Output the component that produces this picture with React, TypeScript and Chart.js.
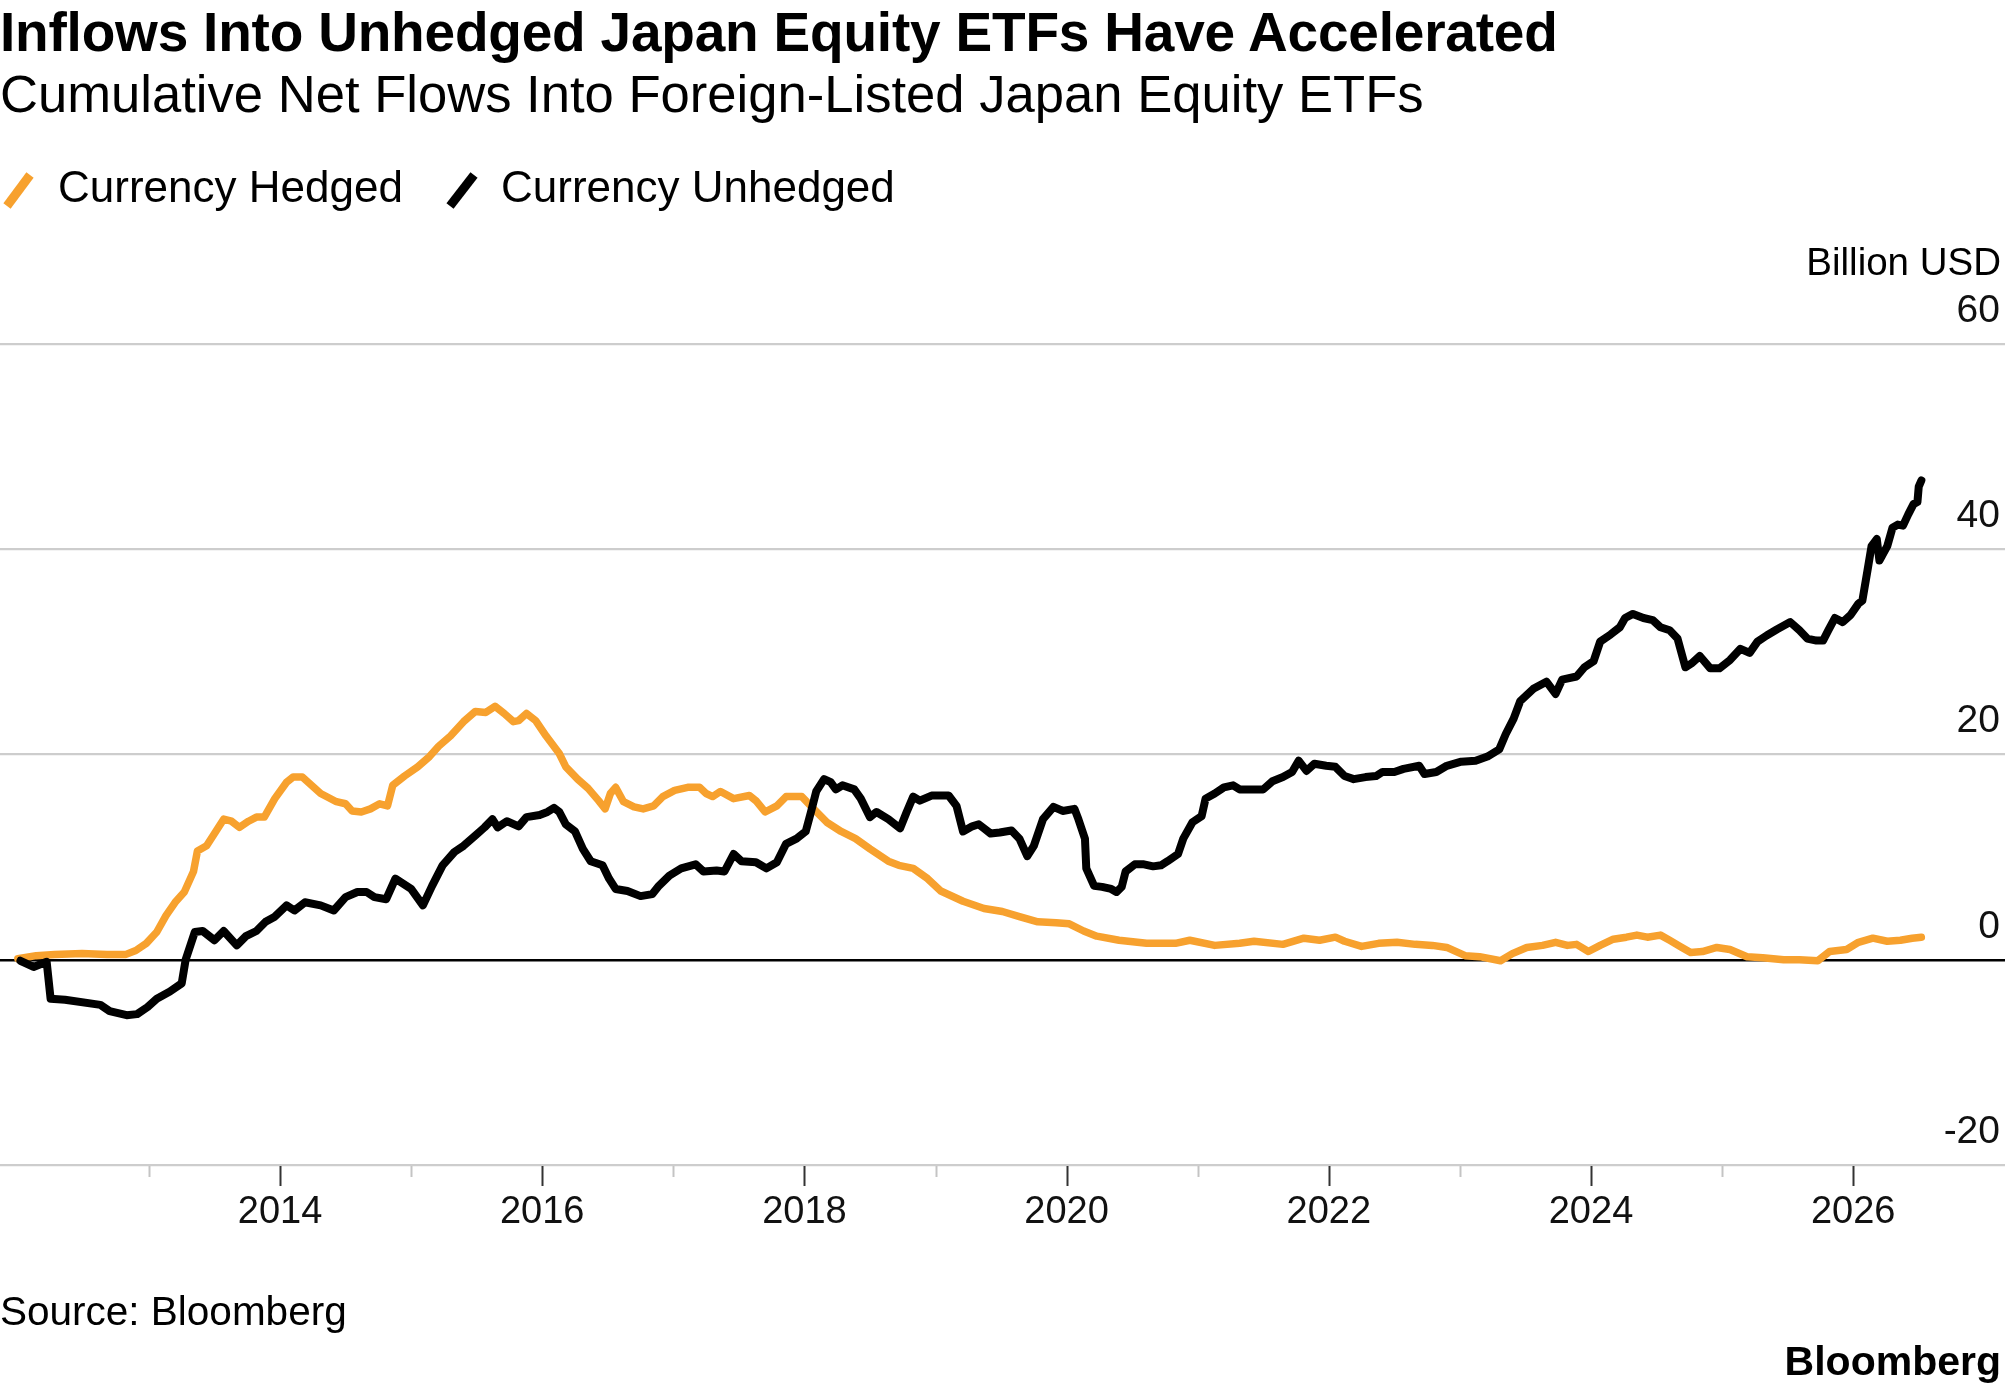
import React, { useEffect, useRef } from 'react';
import { Chart, registerables } from 'chart.js';

Chart.register(...registerables);

// ---------- data (decimal years, billion USD) ----------
const hedgedYears = [
  2012.0, 2012.14, 2012.28, 2012.49, 2012.68, 2012.82, 2012.9, 2012.98, 2013.06, 2013.13,
  2013.2, 2013.27, 2013.34, 2013.37, 2013.44, 2013.51, 2013.57, 2013.63, 2013.69, 2013.76,
  2013.82, 2013.88, 2013.96, 2014.05, 2014.1, 2014.17, 2014.24, 2014.31, 2014.43, 2014.5,
  2014.55, 2014.62, 2014.69, 2014.76, 2014.82, 2014.86, 2014.95, 2015.05, 2015.14, 2015.21,
  2015.3, 2015.4, 2015.49, 2015.57, 2015.64, 2015.71, 2015.78, 2015.82, 2015.88, 2015.95,
  2016.03, 2016.13, 2016.18, 2016.27, 2016.35, 2016.43, 2016.48, 2016.52, 2016.56, 2016.62,
  2016.7, 2016.77, 2016.85, 2016.92, 2017.01, 2017.11, 2017.2, 2017.25, 2017.3, 2017.36,
  2017.46, 2017.58, 2017.63, 2017.7, 2017.79, 2017.86, 2017.98, 2018.07, 2018.17, 2018.28,
  2018.39, 2018.5, 2018.64, 2018.72, 2018.83, 2018.94, 2019.04, 2019.21, 2019.37, 2019.51,
  2019.64, 2019.78, 2019.92, 2020.02, 2020.13, 2020.23, 2020.4, 2020.61, 2020.83, 2020.94,
  2021.13, 2021.32, 2021.43, 2021.65, 2021.81, 2021.93, 2022.05, 2022.12, 2022.25, 2022.38,
  2022.52, 2022.66, 2022.79, 2022.9, 2023.04, 2023.15, 2023.31, 2023.4, 2023.51, 2023.63,
  2023.73, 2023.82, 2023.89, 2023.98, 2024.07, 2024.17, 2024.27, 2024.35, 2024.43, 2024.53,
  2024.6, 2024.68, 2024.76, 2024.85, 2024.96, 2025.06, 2025.19, 2025.31, 2025.47, 2025.59,
  2025.73, 2025.82, 2025.95, 2026.04, 2026.15, 2026.26, 2026.36, 2026.45, 2026.52,
];
const hedgedValues = [
  0.1, 0.4, 0.5, 0.6, 0.5, 0.5, 0.9, 1.6, 2.7, 4.3,
  5.6, 6.6, 8.6, 10.6, 11.1, 12.5, 13.7, 13.5, 12.9, 13.5,
  13.9, 13.9, 15.7, 17.3, 17.8, 17.8, 17.0, 16.2, 15.4, 15.2,
  14.5, 14.4, 14.7, 15.2, 15.0, 17.0, 17.9, 18.8, 19.8, 20.8,
  21.8, 23.2, 24.2, 24.1, 24.7, 24.0, 23.2, 23.3, 24.0, 23.3,
  21.8, 20.1, 18.8, 17.6, 16.7, 15.5, 14.7, 16.2, 16.8, 15.4,
  14.9, 14.7, 15.0, 15.9, 16.5, 16.8, 16.8, 16.2, 15.9, 16.4,
  15.7, 16.0, 15.5, 14.4, 15.0, 15.9, 15.9, 14.7, 13.4, 12.5,
  11.8, 10.8, 9.6, 9.2, 8.9, 7.9, 6.7, 5.7, 5.0, 4.7,
  4.2, 3.7, 3.6, 3.5, 2.8, 2.3, 1.9, 1.6, 1.6, 1.9,
  1.4, 1.6, 1.8, 1.5, 2.1, 1.9, 2.2, 1.8, 1.3, 1.6,
  1.7, 1.5, 1.4, 1.2, 0.4, 0.3, -0.1, 0.6, 1.2, 1.4,
  1.7, 1.4, 1.5, 0.8, 1.4, 2.0, 2.2, 2.4, 2.2, 2.4,
  1.9, 1.3, 0.7, 0.8, 1.2, 1.0, 0.3, 0.2, 0.0, 0.0,
  -0.1, 0.8, 1.0, 1.7, 2.1, 1.8, 1.9, 2.1, 2.2,
];

const unhedgedYears = [
  2012.02, 2012.12, 2012.22, 2012.25, 2012.36, 2012.63, 2012.7, 2012.83, 2012.91, 2012.99,
  2013.06, 2013.16, 2013.25, 2013.28, 2013.35, 2013.41, 2013.5, 2013.57, 2013.67, 2013.74,
  2013.82, 2013.89, 2013.96, 2014.05, 2014.11, 2014.19, 2014.31, 2014.41, 2014.5, 2014.59,
  2014.66, 2014.72, 2014.81, 2014.88, 2015.0, 2015.09, 2015.16, 2015.24, 2015.33, 2015.4,
  2015.49, 2015.56, 2015.62, 2015.66, 2015.73, 2015.82, 2015.88, 2015.98, 2016.04, 2016.09,
  2016.13, 2016.18, 2016.25, 2016.31, 2016.37, 2016.46, 2016.51, 2016.56, 2016.65, 2016.75,
  2016.84, 2016.89, 2016.97, 2017.06, 2017.17, 2017.23, 2017.33, 2017.39, 2017.46, 2017.52,
  2017.63, 2017.71, 2017.79, 2017.86, 2017.94, 2018.01, 2018.05, 2018.09, 2018.15, 2018.2,
  2018.24, 2018.29, 2018.38, 2018.43, 2018.5, 2018.55, 2018.64, 2018.73, 2018.78, 2018.83,
  2018.88, 2018.97, 2019.1, 2019.16, 2019.21, 2019.28, 2019.33, 2019.37, 2019.42, 2019.49,
  2019.58, 2019.64, 2019.7, 2019.75, 2019.82, 2019.9, 2019.97, 2020.06, 2020.09, 2020.14,
  2020.15, 2020.21, 2020.27, 2020.34, 2020.38, 2020.42, 2020.45, 2020.52, 2020.59, 2020.66,
  2020.72, 2020.77, 2020.85, 2020.89, 2020.96, 2021.03, 2021.06, 2021.13, 2021.2, 2021.27,
  2021.32, 2021.41, 2021.5, 2021.57, 2021.65, 2021.72, 2021.77, 2021.83, 2021.89, 2021.98,
  2022.05, 2022.12, 2022.19, 2022.28, 2022.36, 2022.41, 2022.5, 2022.57, 2022.69, 2022.73,
  2022.82, 2022.9, 2023.01, 2023.12, 2023.21, 2023.3, 2023.35, 2023.41, 2023.46, 2023.56,
  2023.66, 2023.73, 2023.78, 2023.89, 2023.95, 2024.02, 2024.07, 2024.15, 2024.22, 2024.26,
  2024.32, 2024.4, 2024.47, 2024.53, 2024.6, 2024.66, 2024.72, 2024.77, 2024.83, 2024.91,
  2024.98, 2025.06, 2025.14, 2025.21, 2025.27, 2025.34, 2025.42, 2025.52, 2025.59, 2025.65,
  2025.72, 2025.77, 2025.81, 2025.86, 2025.92, 2025.98, 2026.04, 2026.07, 2026.11, 2026.14,
  2026.18, 2026.2, 2026.26, 2026.3, 2026.34, 2026.38, 2026.42, 2026.46, 2026.49, 2026.5,
  2026.52,
];
const unhedgedValues = [
  -0.1, -0.7, -0.2, -3.8, -3.9, -4.4, -5.0, -5.4, -5.3, -4.6,
  -3.8, -3.1, -2.3, 0.0, 2.7, 2.8, 1.9, 2.8, 1.4, 2.3,
  2.8, 3.7, 4.2, 5.3, 4.8, 5.6, 5.3, 4.8, 6.1, 6.6,
  6.6, 6.1, 5.9, 7.9, 6.9, 5.3, 7.2, 9.2, 10.5, 11.1,
  12.1, 12.9, 13.7, 12.9, 13.5, 13.0, 13.9, 14.1, 14.4, 14.8,
  14.4, 13.2, 12.5, 10.8, 9.6, 9.2, 7.9, 6.9, 6.7, 6.2,
  6.4, 7.2, 8.2, 8.9, 9.3, 8.6, 8.7, 8.6, 10.3, 9.6,
  9.5, 8.9, 9.5, 11.3, 11.8, 12.5, 14.4, 16.4, 17.6, 17.3,
  16.6, 17.0, 16.6, 15.7, 13.9, 14.4, 13.7, 12.8, 14.4, 15.9,
  15.5, 16.0, 16.0, 15.0, 12.5, 13.0, 13.2, 12.8, 12.3, 12.4,
  12.6, 11.8, 10.1, 11.1, 13.7, 14.9, 14.5, 14.7, 13.7, 11.8,
  8.9, 7.2, 7.1, 6.9, 6.6, 7.1, 8.6, 9.3, 9.3, 9.1,
  9.2, 9.6, 10.3, 11.8, 13.4, 14.0, 15.7, 16.2, 16.8, 17.0,
  16.6, 16.6, 16.6, 17.4, 17.8, 18.3, 19.4, 18.4, 19.1, 18.9,
  18.8, 17.9, 17.6, 17.8, 17.9, 18.3, 18.3, 18.6, 18.9, 18.1,
  18.3, 18.9, 19.3, 19.4, 19.8, 20.5, 22.0, 23.5, 25.2, 26.4,
  27.1, 25.9, 27.3, 27.6, 28.5, 29.1, 31.0, 31.7, 32.4, 33.3,
  33.7, 33.3, 33.1, 32.4, 32.1, 31.3, 28.5, 28.9, 29.6, 28.4,
  28.4, 29.2, 30.3, 29.9, 31.0, 31.6, 32.2, 32.9, 32.1, 31.3,
  31.1, 31.1, 32.1, 33.3, 32.9, 33.6, 34.7, 35.0, 38.0, 40.3,
  41.0, 38.9, 40.3, 42.1, 42.4, 42.3, 43.4, 44.4, 44.6, 46.1,
  46.7,
];

const tickYears = [2013, 2014, 2015, 2016, 2017, 2018, 2019, 2020, 2021, 2022, 2023, 2024, 2025, 2026];
const labelYears = [2014, 2016, 2018, 2020, 2022, 2024, 2026];
const yTickValues = [-20, 0, 20, 40, 60];

const X_MIN = 2011.864;
const X_MAX = 2027.158;

const TITLE = 'Inflows Into Unhedged Japan Equity ETFs Have Accelerated';
const SUBTITLE = 'Cumulative Net Flows Into Foreign-Listed Japan Equity ETFs';
const HEDGED_LABEL = 'Currency Hedged';
const UNHEDGED_LABEL = 'Currency Unhedged';
const UNIT_LABEL = 'Billion USD';
const SOURCE = 'Source: Bloomberg';
const BRAND = 'Bloomberg';

const ORANGE = '#F7A12E';
const BLACK = '#000000';
const FONT = "'Liberation Sans', Arial, Helvetica, sans-serif";

const W = 2005;
const H = 1392;
const PLOT_TOP = 344;
const PLOT_BOTTOM = 1165;
const X_AXIS_H = 80;

const tickMarks = {
  id: 'tickMarks',
  afterDraw(chart: any) {
    const { ctx, chartArea, scales } = chart;
    const x = scales.x;
    ctx.save();
    ctx.lineWidth = 2;
    for (const yr of tickYears) {
      const px = Math.round(x.getPixelForValue(yr)) + 0.5;
      const major = labelYears.includes(yr);
      ctx.strokeStyle = major ? '#333333' : '#c4c4c4';
      ctx.beginPath();
      ctx.moveTo(px, chartArea.bottom + 1);
      ctx.lineTo(px, chartArea.bottom + (major ? 21 : 12));
      ctx.stroke();
    }
    ctx.restore();
  },
};

function App() {
  const ref = useRef<HTMLCanvasElement | null>(null);

  useEffect(() => {
    document.body.style.margin = '0';
    document.body.style.background = '#ffffff';
    const canvas = ref.current;
    if (!canvas) return;
    const chart = new Chart(canvas, {
      type: 'line',
      data: {
        datasets: [
          {
            label: UNHEDGED_LABEL,
            data: unhedgedYears.map((x, i) => ({ x, y: unhedgedValues[i] })),
            borderColor: BLACK,
            borderWidth: 8,
            pointRadius: 0,
            tension: 0,
            order: 0,
          },
          {
            label: HEDGED_LABEL,
            data: hedgedYears.map((x, i) => ({ x, y: hedgedValues[i] })),
            borderColor: ORANGE,
            borderWidth: 7.5,
            pointRadius: 0,
            tension: 0,
            order: 1,
          },
        ],
      },
      options: {
        animation: false,
        responsive: false,
        maintainAspectRatio: false,
        devicePixelRatio: 1,
        layout: {
          padding: { left: 0, right: 0, top: PLOT_TOP, bottom: H - PLOT_BOTTOM - X_AXIS_H },
        },
        elements: {
          line: { borderJoinStyle: 'round', borderCapStyle: 'round' },
        },
        plugins: {
          legend: { display: false },
          tooltip: { enabled: false },
          title: { display: false },
        },
        scales: {
          x: {
            type: 'linear',
            min: X_MIN,
            max: X_MAX,
            afterBuildTicks: (scale: any) => {
              scale.ticks = labelYears.map((v) => ({ value: v }));
            },
            afterFit: (scale: any) => {
              scale.height = X_AXIS_H;
            },
            ticks: {
              autoSkip: false,
              maxRotation: 0,
              padding: 25,
              color: '#111111',
              font: { family: FONT, size: 38 },
              callback: (v: any) => String(v),
            },
            grid: { display: false, drawTicks: false },
            border: { display: false },
          },
          y: {
            position: 'right',
            min: -20,
            max: 60,
            afterBuildTicks: (scale: any) => {
              scale.ticks = yTickValues.map((v) => ({ value: v }));
            },
            afterFit: (scale: any) => {
              scale.width = 0;
            },
            ticks: {
              mirror: true,
              padding: -5,
              labelOffset: -33,
              color: '#111111',
              font: { family: FONT, size: 39 },
            },
            grid: {
              drawTicks: false,
              color: (ctx: any) => (ctx.tick && ctx.tick.value === 0 ? '#000000' : '#cdcdcd'),
              lineWidth: (ctx: any) => (ctx.tick && ctx.tick.value === 0 ? 2.5 : 2.2),
            },
            border: { display: false },
          },
        },
      },
      plugins: [tickMarks],
    } as any);
    return () => chart.destroy();
  }, []);

  const text = (extra: React.CSSProperties): React.CSSProperties => ({
    position: 'absolute',
    fontFamily: FONT,
    lineHeight: 1,
    whiteSpace: 'nowrap',
    color: '#000',
    ...extra,
  });

  return (
    <div style={{ position: 'relative', width: W, height: H, background: '#fff', overflow: 'hidden' }}>
      <canvas ref={ref} width={W} height={H} style={{ position: 'absolute', left: 0, top: 0, width: W, height: H }} />
      <div style={text({ left: 0, top: 5, fontSize: 55, fontWeight: 700, letterSpacing: -0.2 })}>{TITLE}</div>
      <div style={text({ left: 0, top: 68, fontSize: 52.6 })}>{SUBTITLE}</div>
      <svg width={W} height={60} style={{ position: 'absolute', left: 0, top: 160 }}>
        <line x1={7} y1={46} x2={30} y2={15} stroke={ORANGE} strokeWidth={9} />
        <line x1={450} y1={46} x2={474} y2={15} stroke={BLACK} strokeWidth={9} />
      </svg>
      <div style={text({ left: 58, top: 165, fontSize: 44 })}>{HEDGED_LABEL}</div>
      <div style={text({ left: 501, top: 165, fontSize: 44 })}>{UNHEDGED_LABEL}</div>
      <div style={text({ right: 4, top: 243, fontSize: 38.5 })}>{UNIT_LABEL}</div>
      <div style={text({ left: 0, top: 1291, fontSize: 40.5 })}>{SOURCE}</div>
      <div style={text({ right: 4, top: 1341, fontSize: 41, fontWeight: 700 })}>{BRAND}</div>
    </div>
  );
}

export default App;
